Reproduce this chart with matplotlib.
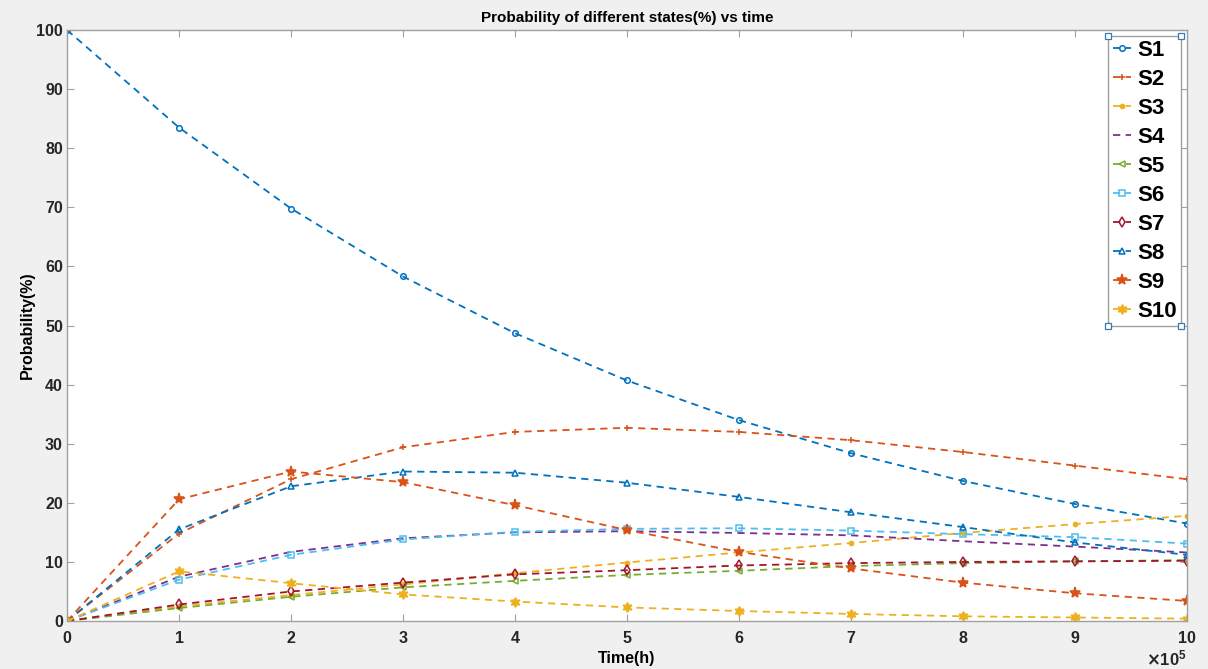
import numpy as np
import matplotlib
matplotlib.use('Agg')
import matplotlib.pyplot as plt

plt.rcParams['font.family'] = ['Liberation Sans', 'DejaVu Sans']
plt.rcParams['font.weight'] = 'bold'

# time in units of 1e5 h
t = [0, 1, 2, 3, 4, 5, 6, 7, 8, 9, 10]

s1 = [100, 83.5, 69.8, 58.3, 48.7, 40.7, 34.0, 28.4, 23.7, 19.8, 16.5]
s2 = [0, 14.8, 24.0, 29.4, 32.0, 32.7, 32.0, 30.6, 28.6, 26.3, 24.0]
s3 = [0, 2.5, 4.4, 6.2, 8.1, 9.9, 11.6, 13.2, 14.9, 16.4, 17.8]
s4 = [0, 7.5, 11.7, 14.0, 15.0, 15.2, 14.9, 14.5, 13.5, 12.6, 11.6]
s5 = [0, 2.2, 4.1, 5.7, 6.8, 7.8, 8.5, 9.3, 9.8, 10.1, 10.3]
s6 = [0, 7.0, 11.2, 13.8, 15.1, 15.6, 15.7, 15.3, 14.7, 14.2, 13.1]
s7 = [0, 2.8, 5.0, 6.5, 7.9, 8.6, 9.4, 9.8, 10.0, 10.1, 10.2]
s8 = [0, 15.5, 22.8, 25.3, 25.1, 23.4, 21.0, 18.4, 15.9, 13.3, 11.2]
s9 = [0, 20.6, 25.3, 23.5, 19.6, 15.4, 11.7, 8.9, 6.5, 4.7, 3.4]
s10 = [0, 8.4, 6.4, 4.5, 3.3, 2.3, 1.7, 1.2, 0.8, 0.6, 0.4]

series = [s1, s2, s3, s4, s5, s6, s7, s8, s9, s10]
names = ['S1', 'S2', 'S3', 'S4', 'S5', 'S6', 'S7', 'S8', 'S9', 'S10']

colors = ['#0072BD', '#D95319', '#EDB120', '#7E2F8E', '#77AC30',
          '#4DBEEE', '#A2142F', '#0072BD', '#D95319', '#EDB120']
markers = ['o', '+', '.', 'None', '<', 's', 'd', '^', '*', (6, 1, 0)]
msizes = [4, 5, 6, 4, 5, 4, 5, 5, 8, 7]
filled = [False, True, True, False, False, False, False, False, True, True]

fig = plt.figure(figsize=(12.08, 6.69), dpi=100, facecolor='#F0F0F0')
ax = fig.add_axes([0.0555, 0.0717, 0.927, 0.8834])
ax.set_facecolor('white')

for y, n, c, m, ms, f in zip(series, names, colors, markers, msizes, filled):
    ax.plot(t, y, linestyle=(0, (4, 3)), color=c, lw=1.3, marker=m,
            markersize=ms, markerfacecolor=c if f else 'none',
            markeredgecolor=c, markeredgewidth=1.1, label=n)

ax.set_xlim(0, 10)
ax.set_ylim(0, 100)
ax.set_xticks(range(0, 11))
ax.set_yticks(range(0, 101, 10))
ax.tick_params(direction='in', length=5, width=0.8, color='#A0A0A0',
               labelsize=11.5, labelcolor='#262626', top=True, right=True,
               labeltop=False, labelright=False)
ax.tick_params(axis='x', pad=7)
ax.tick_params(axis='y', pad=3)
for sp in ax.spines.values():
    sp.set_color('#A0A0A0')
    sp.set_linewidth(1.0)

ax.set_title('Probability of different states(%) vs time', fontsize=11,
             fontweight='bold', pad=6)
ax.set_xlabel('Time(h)', fontsize=11.5, fontweight='bold', labelpad=4)
ax.set_ylabel('Probability(%)', fontsize=11.5, fontweight='bold', labelpad=1)
ax.text(1.0, -0.046, r'$\times\mathregular{10^5}$', transform=ax.transAxes,
        ha='right', va='top', fontsize=12, color='#262626')

leg = ax.legend(loc='upper right', fontsize=16, frameon=True, fancybox=False,
                handlelength=0.8, handletextpad=0.3, labelspacing=0.36,
                borderpad=0.2, borderaxespad=0.25, framealpha=1)
leg.get_frame().set_edgecolor('#A0A0A0')
leg.get_frame().set_linewidth(1.0)
for txt in leg.get_texts():
    txt.set_fontweight('bold')

# small selection handles at the legend corners
fig.canvas.draw()
bb = leg.get_window_extent().transformed(fig.transFigure.inverted())
cx = [bb.x0, bb.x1, bb.x0, bb.x1]
cy = [bb.y0, bb.y0, bb.y1, bb.y1]
fig.add_artist(plt.Line2D(cx, cy, transform=fig.transFigure, linestyle='None',
                          marker='s', markersize=4, markerfacecolor='white',
                          markeredgecolor='#3C78B4', markeredgewidth=0.9))

fig.savefig('out.png', dpi=100, facecolor=fig.get_facecolor())
